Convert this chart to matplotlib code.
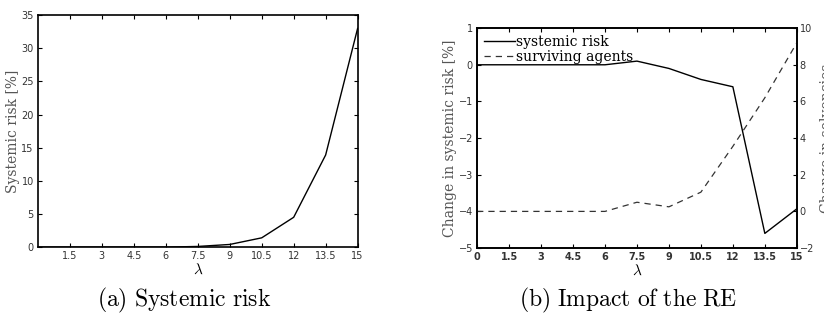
import numpy as np
import matplotlib
matplotlib.use('Agg')
import matplotlib.pyplot as plt

plt.rcParams['mathtext.fontset'] = 'cm'
plt.rcParams['font.family'] = 'DejaVu Sans'

# data
lam = [0, 1.5, 3, 4.5, 6, 7.5, 9, 10.5, 12, 13.5, 15]
risk = [0, 0, 0, 0, 0, 0.1, 0.4, 1.4, 4.5, 13.9, 33.0]
risk_change = [0, 0, 0, 0, 0, 0.1, -0.1, -0.4, -0.6, -4.6, -3.93]
surv_change = [0, 0, 0, 0, 0, 0.5, 0.25, 1.05, 3.55, 6.2, 9.2]
xticks_a = [1.5, 3, 4.5, 6, 7.5, 9, 10.5, 12, 13.5, 15]
xticks_b = [0, 1.5, 3, 4.5, 6, 7.5, 9, 10.5, 12, 13.5, 15]

def cm(s):
    return r'$\mathrm{' + s.replace(' ', r'\ ') + '}$'

lab = dict(family='DejaVu Serif', fontsize=10, color='#555555')
tick_col = '#333333'

fig = plt.figure(figsize=(8.24, 3.16), dpi=100)

# (a) systemic risk
ax1 = fig.add_axes([0.046, 0.218, 0.388, 0.734])
ax1.plot(lam, risk, color='black', lw=1)
ax1.set_xlim(0, 15)
ax1.set_ylim(0, 35)
ax1.set_xticks(xticks_a)
ax1.set_xticklabels([('%g' % t) for t in xticks_a])
ax1.set_yticks(np.arange(0, 36, 5))
ax1.tick_params(direction='in', top=True, right=True, labelsize=7, length=3, pad=3,
                labelcolor=tick_col)
ax1.set_xlabel(r'$\lambda$', fontsize=11, labelpad=0.5)
ax1.set_ylabel(r'Systemic risk [%]', labelpad=1, **lab)
for s in ax1.spines.values():
    s.set_linewidth(1.2)

# (b) impact of the RE
ax2 = fig.add_axes([0.579, 0.215, 0.388, 0.696])
l1, = ax2.plot(lam, risk_change, color='black', lw=1, label='systemic risk')
ax2.set_xlim(0, 15)
ax2.set_ylim(-5, 1)
ax2.set_xticks(xticks_b)
ax2.set_xticklabels([('%g' % t) for t in xticks_b], fontweight='bold')
ax2.tick_params(direction='in', top=True, labelsize=7, length=3, pad=3,
                labelcolor=tick_col)
ax2.set_xlabel(r'$\lambda$', fontsize=11, labelpad=0.5)
ax2.set_ylabel(r'Change in systemic risk [%]', labelpad=1, **lab)

ax3 = ax2.twinx()
l2, = ax3.plot(lam, surv_change, color='#333333', lw=0.9, ls=(0, (5, 4)),
               label='surviving agents')
ax3.set_ylim(-2, 10)
ax3.set_yticks(np.arange(-2, 11, 2))
ax3.tick_params(direction='in', labelsize=7, length=3, pad=2, labelcolor=tick_col)
ax3.set_ylabel('Change in solvencies', labelpad=4, **lab)
for s in list(ax2.spines.values()) + list(ax3.spines.values()):
    s.set_linewidth(1.2)

ax2.legend(handles=[l1, l2], loc='upper left', frameon=False,
           prop=dict(family='DejaVu Serif', size=10),
           handlelength=2.2, handletextpad=0.1, labelspacing=0.05,
           borderaxespad=0.3, borderpad=0.2)

fig.text(0.223, 0.05, cm('(a) Systemic risk'), ha='center', va='center', fontsize=17)
fig.text(0.762, 0.05, cm('(b) Impact of the RE'), ha='center', va='center', fontsize=17)

fig.savefig('out.png', dpi=100)
